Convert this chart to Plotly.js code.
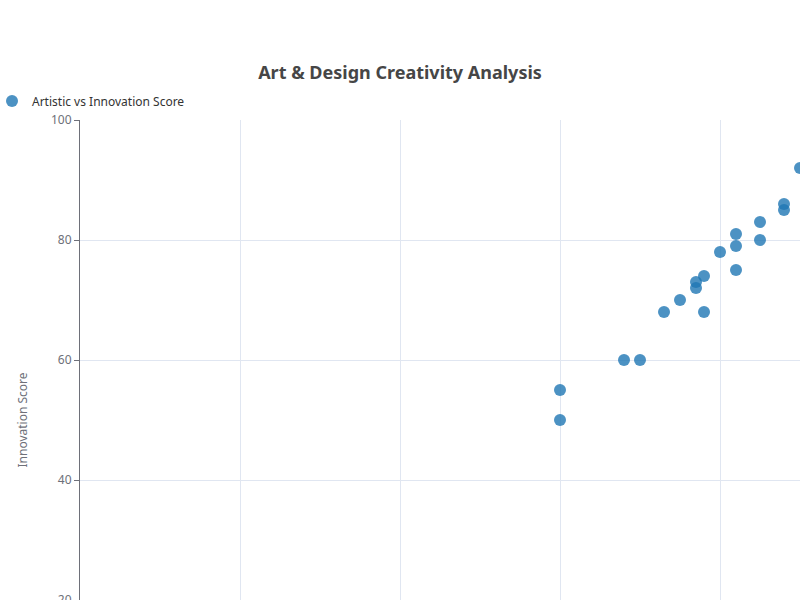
<!DOCTYPE html>
<html>
<head>
<meta charset="utf-8">
<script src="https://cdn.plot.ly/plotly-3.0.1.min.js"></script>
<style>
html, body { margin: 0; padding: 0; overflow: hidden; background: #fff; }
#chart { width: 908px; height: 780px; position: absolute; left: -8px; top: 0; }
</style>
</head>
<body>
<div id="chart"></div>
<script>
const seriesName = "Artistic vs Innovation Score";
const artisticScore   = [60, 60, 68, 70, 73, 75, 77, 77, 78, 78, 80, 82, 82, 82, 85, 85, 88, 88, 90];
const innovationScore = [55, 50, 60, 60, 68, 70, 73, 72, 74, 68, 78, 81, 79, 75, 83, 80, 86, 85, 92];
const yTicks = [0, 20, 40, 60, 80, 100];
const xTicks = [0, 20, 40, 60, 80, 100];

const SHIFT = 8;
const W = 908, H = 780;
const L = 80 + SHIFT, R = 20, T = 120, B = 60;
const gray = "#6e7079";
const gridColor = "#e0e6f1";

const trace = {
  type: "scatter",
  mode: "markers",
  name: seriesName,
  x: artisticScore,
  y: innovationScore,
  marker: { color: "#1f77b4", opacity: 0.8, size: 12, line: { width: 0 } },
  showlegend: true,
  cliponaxis: true
};

const layout = {
  width: W, height: H,
  margin: { l: L, r: R, t: T, b: B },
  paper_bgcolor: "#ffffff",
  plot_bgcolor: "#ffffff",
  font: { family: "Noto Sans, sans-serif", size: 12, color: gray },
  title: {
    text: "<b>Art & Design Creativity Analysis</b>",
    font: { size: 18, color: "#464646", family: "Noto Sans, sans-serif" },
    xref: "container", x: (400 + SHIFT) / W, xanchor: "center",
    yref: "container", y: 1 - 73 / H, yanchor: "middle"
  },
  showlegend: true,
  legend: {
    xref: "container", yref: "container",
    x: 0, xanchor: "left",
    y: 1 - 101 / H, yanchor: "middle",
    orientation: "h",
    font: { size: 12, color: "#333333" },
    bgcolor: "rgba(0,0,0,0)",
    itemwidth: 30
  },
  xaxis: {
    range: [0, 100],
    tickvals: xTicks,
    showgrid: true, gridcolor: gridColor, gridwidth: 1,
    zeroline: false,
    showline: true, linecolor: gray,
    ticks: "outside", ticklen: 5, tickcolor: gray,
    showticklabels: false,
    automargin: false
  },
  yaxis: {
    range: [0, 100],
    tickvals: yTicks,
    showgrid: true, gridcolor: gridColor, gridwidth: 1,
    zeroline: false,
    showline: true, linecolor: gray,
    ticks: "outside", ticklen: 5, tickcolor: gray,
    tickfont: { size: 12, color: gray },
    automargin: false,
    title: { text: "Innovation Score", font: { size: 12, color: gray }, standoff: 20 }
  }
};

Plotly.newPlot("chart", [trace], layout, { displayModeBar: false, staticPlot: true });
</script>
</body>
</html>
